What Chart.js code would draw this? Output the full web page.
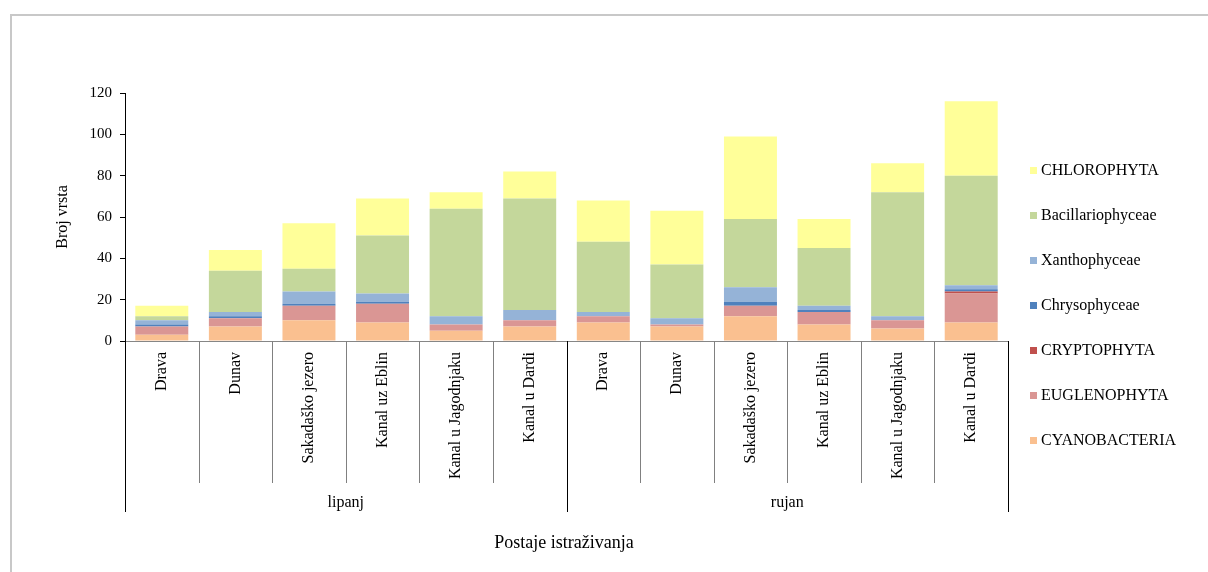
<!DOCTYPE html>
<html>
<head>
<meta charset="utf-8">
<script src="https://cdn.jsdelivr.net/npm/chart.js@4/dist/chart.umd.min.js"></script>
<style>
  html, body { margin: 0; padding: 0; background: #fff; }
  #wrap { width: 1208px; height: 572px; position: relative; }
</style>
</head>
<body>
<div id="wrap"><canvas id="algae"></canvas></div>
<script>
const stations = ['Drava', 'Dunav', 'Sakadaško jezero', 'Kanal uz Eblin', 'Kanal u Jagodnjaku', 'Kanal u Dardi'];
const months   = ['lipanj', 'rujan'];
const yTicks   = [0, 20, 40, 60, 80, 100, 120];

// lipanj stations first, then rujan
const cyanobacteria    = [3, 7, 10, 9, 5, 7,   9, 7, 12, 8, 6, 9];
const euglenophyta     = [4, 4, 7, 9, 3, 3,    3, 1, 5, 6, 4, 14];
const cryptophyta      = [0, 0, 0, 0, 0, 0,    0, 0, 0, 0, 0, 1];
const chrysophyceae    = [1, 1, 1, 1, 0, 0,    0, 0, 2, 1, 0, 1];
const xanthophyceae    = [2, 2, 6, 4, 4, 5,    2, 3, 7, 2, 2, 2];
const bacillariophyceae= [2, 20, 11, 28, 52, 54, 34, 26, 33, 28, 60, 53];
const chlorophyta      = [5, 10, 22, 18, 8, 13, 20, 26, 40, 14, 14, 36];

const FONT = "'Liberation Serif', 'Times New Roman', serif";

const labels = [];
months.forEach(m => stations.forEach(s => labels.push(s)));

const series = [
  { label: 'CYANOBACTERIA',     data: cyanobacteria,     color: '#FAC090' },
  { label: 'EUGLENOPHYTA',      data: euglenophyta,      color: '#DA9694' },
  { label: 'CRYPTOPHYTA',       data: cryptophyta,       color: '#C0504D' },
  { label: 'Chrysophyceae',     data: chrysophyceae,     color: '#4F81BD' },
  { label: 'Xanthophyceae',     data: xanthophyceae,     color: '#95B3D7' },
  { label: 'Bacillariophyceae', data: bacillariophyceae, color: '#C4D79B' },
  { label: 'CHLOROPHYTA',       data: chlorophyta,       color: '#FFFF99' }
];

// frame, category axis with groups, x title and legend
const decor = {
  id: 'decor',
  beforeDraw(chart) {
    const c = chart.ctx;
    c.save();
    c.strokeStyle = '#c8c8c8';
    c.lineWidth = 2;
    c.beginPath();
    c.moveTo(11, 580); c.lineTo(11, 15); c.lineTo(1210, 15);
    c.stroke();
    c.restore();
  },
  afterDraw(chart) {
    const c = chart.ctx;
    const x = chart.scales.x;
    const area = chart.chartArea;
    const bottom = area.bottom;
    const step = (area.right - area.left) / labels.length;
    c.save();

    // separators
    for (let i = 0; i <= labels.length; i++) {
      const px = Math.round(area.left + i * step) + 0.5;
      const group = i % stations.length === 0;
      c.strokeStyle = group ? '#000' : '#808080';
      c.lineWidth = 1;
      c.beginPath();
      c.moveTo(px, bottom);
      c.lineTo(px, group ? 512 : 483);
      c.stroke();
    }

    // station labels (rotated)
    c.fillStyle = '#000';
    c.font = '16px ' + FONT;
    c.textAlign = 'right';
    c.textBaseline = 'middle';
    labels.forEach((lab, i) => {
      const px = x.getPixelForValue(i);
      c.save();
      c.translate(px, bottom + 11);
      c.rotate(-Math.PI / 2);
      c.fillText(lab, 0, 0);
      c.restore();
    });

    // month labels
    c.textAlign = 'center';
    months.forEach((m, g) => {
      const x0 = area.left + g * stations.length * step;
      c.fillText(m, x0 + stations.length * step / 2, 503);
    });

    // x title
    c.font = '18px ' + FONT;
    c.fillText('Postaje istraživanja', 564, 543);

    // legend, top entry first
    c.font = '16px ' + FONT;
    c.textAlign = 'left';
    series.slice().reverse().forEach((s, i) => {
      const y = 171 + i * 45;
      c.fillStyle = s.color;
      c.fillRect(1030, y - 4, 7, 7);
      c.fillStyle = '#000';
      c.fillText(s.label, 1041, y);
    });
    c.restore();
  }
};

new Chart(document.getElementById('algae'), {
  type: 'bar',
  data: {
    labels,
    datasets: series.map(s => ({
      label: s.label,
      data: s.data,
      backgroundColor: s.color,
      borderWidth: 0,
      barPercentage: 0.72,
      categoryPercentage: 1
    }))
  },
  options: {
    responsive: true,
    maintainAspectRatio: false,
    animation: false,
    layout: { padding: { left: 49, right: 200, top: 93, bottom: 231 } },
    plugins: { legend: { display: false }, tooltip: { enabled: false } },
    scales: {
      x: {
        stacked: true,
        ticks: { display: false },
        grid: { display: false },
        border: { color: '#868686', width: 1 },
        afterFit: s => { s.height = 0; }
      },
      y: {
        stacked: true,
        min: 0, max: 120,
        afterBuildTicks: s => { s.ticks = yTicks.map(v => ({ value: v })); },
        afterFit: s => { s.width = 76; },
        ticks: { color: '#000', padding: 8, font: { family: FONT, size: 15 } },
        grid: { drawOnChartArea: false, drawTicks: true, tickLength: 5, color: '#000' },
        border: { color: '#000', width: 1 },
        title: {
          display: true, text: 'Broj vrsta', color: '#000',
          font: { family: FONT, size: 16 }, padding: { top: 4, bottom: 0 }
        }
      }
    }
  },
  plugins: [decor]
});
</script>
</body>
</html>
